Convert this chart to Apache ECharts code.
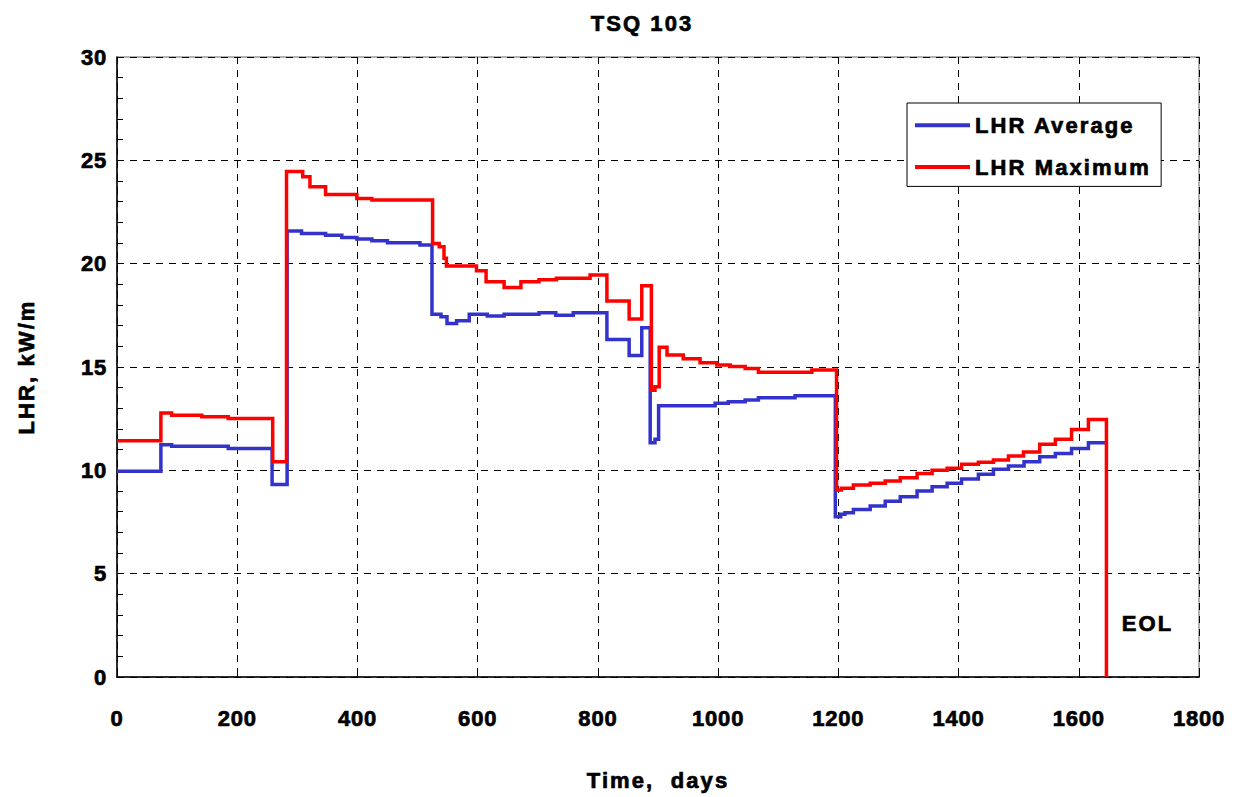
<!DOCTYPE html>
<html>
<head>
<meta charset="utf-8">
<script src="https://cdn.jsdelivr.net/npm/echarts@6/dist/echarts.min.js"></script>
<style>
  html, body { margin: 0; padding: 0; background: #fff; }
  #chart { width: 1243px; height: 797px; }
  /* wide-set lettering for titles, legend and annotations; slight tracking for numbers */
  #chart text { letter-spacing: 0.8px; }
  #chart text[style*="Arial"] { letter-spacing: 2.1px; }
</style>
</head>
<body>
<div id="chart"></div>
<script>
// Linear heat rate history of rod TSQ 103 (value holds until the next change day)
const avgDays = [0, 73, 91, 185, 258, 283, 307, 347, 374, 399, 424, 450, 504, 524, 539, 549, 565, 586, 616, 644, 702, 730, 759, 815, 852, 873, 887, 895, 901, 995, 1017, 1045, 1067, 1128, 1195, 1204, 1211, 1225, 1253, 1278, 1303, 1331, 1356, 1381, 1405, 1433, 1458, 1483, 1509, 1535, 1561, 1588, 1616, 1644];
const avgLHR  = [9.95, 11.24, 11.17, 11.06, 9.32, 21.58, 21.46, 21.37, 21.27, 21.19, 21.11, 21.01, 20.9, 17.55, 17.43, 17.1, 17.24, 17.55, 17.47, 17.55, 17.63, 17.51, 17.63, 16.33, 15.56, 16.9, 11.34, 11.5, 13.12, 13.24, 13.32, 13.4, 13.51, 13.61, 7.76, 7.87, 7.95, 8.11, 8.27, 8.51, 8.72, 9.0, 9.21, 9.37, 9.58, 9.81, 10.05, 10.21, 10.42, 10.66, 10.82, 11.06, 11.34, 11.34];

const maxDays = [0, 73, 91, 141, 185, 259, 282, 309, 321, 347, 399, 424, 525, 536, 544, 548, 598, 614, 644, 672, 702, 731, 787, 815, 852, 873, 889, 895, 902, 915, 942, 970, 998, 1020, 1045, 1067, 1156, 1197, 1205, 1225, 1253, 1278, 1303, 1331, 1356, 1381, 1405, 1433, 1458, 1483, 1508, 1535, 1561, 1588, 1616, 1646];
const maxLHR  = [11.43, 12.77, 12.66, 12.59, 12.51, 10.42, 24.46, 24.2, 23.72, 23.35, 23.15, 23.08, 20.98, 20.82, 20.26, 19.89, 19.66, 19.13, 18.85, 19.13, 19.22, 19.3, 19.45, 18.19, 17.32, 18.93, 13.88, 14.04, 15.95, 15.58, 15.4, 15.21, 15.1, 15.02, 14.93, 14.74, 14.85, 9.05, 9.13, 9.29, 9.37, 9.48, 9.64, 9.85, 10.01, 10.1, 10.3, 10.39, 10.5, 10.69, 10.89, 11.26, 11.5, 11.98, 12.46, 0];

const seriesNames = ['LHR Average', 'LHR Maximum'];
const seriesColors = ['#3333cc', '#ff0000'];
const eolDay = 1650;
const eolLevel = 2.6;

const TEXT_FONT = 'Liberation Sans, Arial, sans-serif';
const NUM_FONT = 'Liberation Sans';

// Heavy black lettering used throughout
const heavy = (family) => ({
  fontFamily: family, fontWeight: 'bold', fontSize: 22, color: '#000',
  textBorderColor: '#000', textBorderWidth: 0.7
});

// Expand change points into a staircase: horizontal to the change day, then vertical.
function staircase(days, vals) {
  const pts = [[days[0], vals[0]]];
  for (let i = 1; i < days.length; i++) {
    pts.push([days[i], vals[i - 1]]);
    pts.push([days[i], vals[i]]);
  }
  return pts;
}

function stepSeries(name, color, days, vals, z) {
  const pts = staircase(days, vals);
  return {
    name: name,
    type: 'custom',
    coordinateSystem: 'cartesian2d',
    itemStyle: { color: color },
    encode: { x: 0, y: 1 },
    data: pts,
    z: z,
    silent: true,
    renderItem: function (params, api) {
      if (params.dataIndex !== 0) return null;
      return {
        type: 'polyline',
        shape: { points: pts.map(p => api.coord(p)) },
        style: { stroke: color, lineWidth: 3.5, fill: null, lineJoin: 'miter', lineCap: 'butt' }
      };
    }
  };
}

const chart = echarts.init(document.getElementById('chart'), null, { renderer: 'svg' });

chart.setOption({
  animation: false,
  backgroundColor: '#ffffff',
  title: {
    text: 'TSQ 103',
    left: 637,
    textAlign: 'center',
    top: 7,
    textStyle: heavy(TEXT_FONT)
  },
  grid: {
    left: 117, right: 44, top: 57, bottom: 120,
    show: true, borderColor: '#999', borderWidth: 1.5, backgroundColor: 'transparent'
  },
  legend: {
    orient: 'vertical',
    left: 907, top: 103,
    padding: [11, 33, 8, 8],
    itemGap: 19,
    itemWidth: 55, itemHeight: 4,
    icon: 'rect',
    borderColor: '#000', borderWidth: 1,
    backgroundColor: '#fff',
    textStyle: heavy(TEXT_FONT),
    data: seriesNames
  },
  xAxis: {
    type: 'value',
    min: 0, max: 1800, interval: 200,
    name: 'Time,  days',
    nameLocation: 'middle',
    nameGap: 92,
    nameTextStyle: heavy(TEXT_FONT),
    axisLine: { show: true, onZero: false, lineStyle: { color: '#000', width: 1.5 } },
    axisTick: { show: true, inside: true, length: 5, lineStyle: { color: '#000' } },
    axisLabel: Object.assign({ margin: 30, formatter: v => String(v) }, heavy(NUM_FONT)),
    splitLine: { show: true, lineStyle: { color: '#000', type: [7, 6], width: 1 } }
  },
  yAxis: {
    type: 'value',
    min: 0, max: 30, interval: 5,
    name: 'LHR, kW/m',
    nameLocation: 'middle',
    nameGap: 80,
    nameTextStyle: heavy(TEXT_FONT),
    axisLine: { show: true, lineStyle: { color: '#000', width: 1.5 } },
    axisTick: { show: true, inside: true, length: 6, lineStyle: { color: '#000' } },
    minorTick: { show: true, splitNumber: 5, length: 6, lineStyle: { color: '#000' } },
    axisLabel: Object.assign({ margin: 10, formatter: v => String(v) }, heavy(NUM_FONT)),
    splitLine: { show: true, lineStyle: { color: '#000', type: [7, 6], width: 1 } }
  },
  series: [
    stepSeries(seriesNames[0], seriesColors[0], avgDays, avgLHR, 2),
    Object.assign(stepSeries(seriesNames[1], seriesColors[1], maxDays, maxLHR, 3), {
      markPoint: {
        symbol: 'circle',
        symbolSize: 0,
        silent: true,
        itemStyle: { color: '#000' },
        data: [{ coord: [eolDay, eolLevel] }],
        label: Object.assign({
          show: true,
          position: 'right',
          distance: 13,
          formatter: 'EOL'
        }, heavy(TEXT_FONT))
      }
    })
  ]
});
</script>
</body>
</html>
